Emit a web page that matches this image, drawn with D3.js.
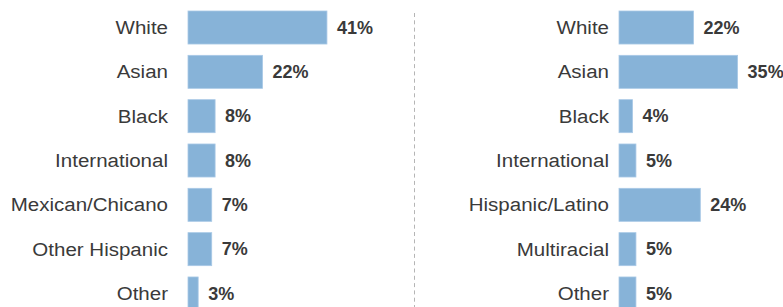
<!DOCTYPE html>
<html>
<head>
<meta charset="utf-8">
<script src="https://cdn.jsdelivr.net/npm/d3@7"></script>
<style>
  body { margin: 0; background: #fff; }
  svg { display: block; }
</style>
</head>
<body>
<svg id="chart" width="783" height="307"></svg>
<script>
// Left panel data
const leftCategories = ["White", "Asian", "Black", "International", "Mexican/Chicano", "Other Hispanic", "Other"];
const leftValues = [41, 22, 8, 8, 7, 7, 3];

// Right panel data
const rightCategories = ["White", "Asian", "Black", "International", "Hispanic/Latino", "Multiracial", "Other"];
const rightValues = [22, 35, 4, 5, 24, 5, 5];

const svg = d3.select("#chart");

// Shared scales
const x = d3.scaleLinear().domain([0, 45]).range([0, 152.5]);
const y = d3.scaleBand()
    .domain(d3.range(7))
    .range([11, 310])
    .paddingInner(0.255)
    .paddingOuter(0);

// Divider
svg.append("line")
    .attr("x1", 414.5).attr("x2", 414.5)
    .attr("y1", 13).attr("y2", 307)
    .attr("stroke", "#b5b5b5")
    .attr("stroke-width", 1)
    .attr("stroke-dasharray", "4,3.3");

// Draw one panel
function drawPanel(categories, values, barX, labelX) {
    const g = svg.append("g");
    const rows = categories.map((c, i) => ({ cat: c, val: values[i], i: i }));

    g.selectAll("rect")
        .data(rows)
        .enter()
        .append("rect")
        .attr("x", barX)
        .attr("y", d => y(d.i))
        .attr("width", d => x(d.val))
        .attr("height", y.bandwidth())
        .attr("fill", "#87b3d8")
        .attr("stroke", "#a9c9e6")
        .attr("stroke-width", 0.8);

    // category labels, slightly stretched like the original
    g.selectAll(".cat")
        .data(rows)
        .enter()
        .append("text")
        .attr("class", "cat")
        .attr("transform", d => `translate(${labelX},${y(d.i) + y.bandwidth() / 2}) scale(1.08,1)`)
        .attr("dy", "0.35em")
        .attr("text-anchor", "end")
        .attr("font-family", "Liberation Sans, Arial, sans-serif")
        .attr("font-size", 19)
        .attr("fill", "#3a3a3a")
        .text(d => d.cat);

    g.selectAll(".val")
        .data(rows)
        .enter()
        .append("text")
        .attr("class", "val")
        .attr("x", d => barX + x(d.val) + 10)
        .attr("y", d => y(d.i) + y.bandwidth() / 2)
        .attr("dy", "0.35em")
        .attr("font-family", "Liberation Sans, Arial, sans-serif")
        .attr("font-size", 18)
        .attr("font-weight", "bold")
        .attr("fill", "#3a3a3a")
        .text(d => d.val + "%");
}

drawPanel(leftCategories, leftValues, 188, 168);
drawPanel(rightCategories, rightValues, 619, 609);
</script>
</body>
</html>
